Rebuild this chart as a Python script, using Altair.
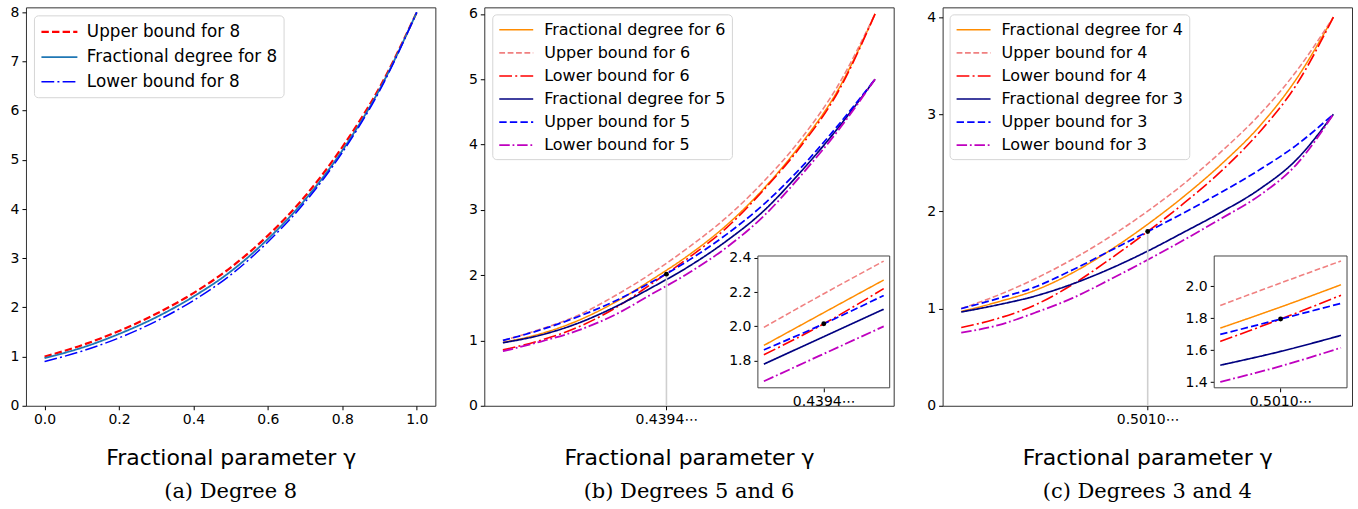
import altair as alt
import pandas as pd

# ---------------- data ----------------
gamma = [0.0, 0.1, 0.2, 0.3, 0.4, 0.5, 0.6, 0.7, 0.8, 0.9, 1.0]

# panel (a): degree 8
a_names = ["Upper bound for 8", "Fractional degree for 8", "Lower bound for 8"]
a_upper8 = [1.00, 1.23, 1.52, 1.87, 2.29, 2.81, 3.46, 4.26, 5.26, 6.47, 8.00]
a_frac8 = [0.97, 1.18, 1.46, 1.80, 2.22, 2.73, 3.39, 4.19, 5.19, 6.43, 8.00]
a_lower8 = [0.90, 1.11, 1.38, 1.72, 2.14, 2.66, 3.33, 4.14, 5.15, 6.40, 8.00]
a_xticks = [0.0, 0.2, 0.4, 0.6, 0.8, 1.0]
a_yticks = [0, 1, 2, 3, 4, 5, 6, 7, 8]

# panel (b): degrees 5 and 6
b_names = ["Fractional degree for 6", "Upper bound for 6", "Lower bound for 6",
           "Fractional degree for 5", "Upper bound for 5", "Lower bound for 5"]
b_frac6 = [0.97, 1.10, 1.30, 1.58, 1.93, 2.31, 2.76, 3.32, 4.00, 4.83, 6.00]
b_upper6 = [1.00, 1.17, 1.38, 1.68, 2.03, 2.43, 2.88, 3.43, 4.08, 4.90, 6.00]
b_lower6 = [0.855, 1.00, 1.20, 1.49, 1.87, 2.27, 2.72, 3.30, 3.97, 4.80, 6.00]
b_frac5 = [0.965, 1.08, 1.26, 1.51, 1.81, 2.135, 2.52, 2.98, 3.58, 4.25, 5.00]
b_upper5 = [1.00, 1.16, 1.36, 1.60, 1.895, 2.23, 2.62, 3.08, 3.64, 4.29, 5.00]
b_lower5 = [0.835, 0.98, 1.15, 1.39, 1.71, 2.035, 2.42, 2.90, 3.52, 4.21, 5.00]
b_yticks = [0, 1, 2, 3, 4, 5, 6]
b_mark_gamma = [0.4394]
b_mark_value = [2.015]
b_mark_base = [0.0]
b_mark_label = "0.4394\u22ef"
b_inset_gamma = [0.3894, 0.4394, 0.4894]
bi_frac6 = [1.889, 2.08, 2.27]
bi_upper6 = [1.994, 2.19, 2.38]
bi_lower6 = [1.834, 2.015, 2.22]
bi_frac5 = [1.78, 1.94, 2.10]
bi_upper5 = [1.863, 2.015, 2.18]
bi_lower5 = [1.68, 1.84, 2.00]
bi_xdomain = [0.3844, 0.4944]
bi_ydomain = [1.642, 2.41]
bi_yticks = [1.8, 2.0, 2.2, 2.4]

# panel (c): degrees 3 and 4
c_names = ["Fractional degree for 4", "Upper bound for 4", "Lower bound for 4",
           "Fractional degree for 3", "Upper bound for 3", "Lower bound for 3"]
c_frac4 = [0.97, 1.07, 1.19, 1.37, 1.60, 1.865, 2.16, 2.49, 2.87, 3.36, 4.00]
c_upper4 = [1.00, 1.14, 1.31, 1.51, 1.74, 2.00, 2.29, 2.62, 2.99, 3.44, 4.00]
c_lower4 = [0.805, 0.90, 1.04, 1.25, 1.51, 1.79, 2.09, 2.42, 2.81, 3.30, 4.00]
c_frac3 = [0.965, 1.04, 1.13, 1.255, 1.41, 1.59, 1.79, 1.995, 2.225, 2.53, 3.00]
c_upper3 = [1.00, 1.105, 1.225, 1.40, 1.595, 1.79, 1.99, 2.20, 2.425, 2.68, 3.00]
c_lower3 = [0.753, 0.83, 0.96, 1.11, 1.30, 1.50, 1.71, 1.93, 2.16, 2.48, 3.00]
c_yticks = [0, 1, 2, 3, 4]
c_mark_gamma = [0.5010]
c_mark_value = [1.794]
c_mark_base = [0.0]
c_mark_label = "0.5010\u22ef"
c_inset_gamma = [0.451, 0.501, 0.551]
ci_frac4 = [1.7375, 1.869, 2.008]
ci_upper4 = [1.879, 2.019, 2.156]
ci_lower4 = [1.654, 1.794, 1.942]
ci_frac3 = [1.506, 1.592, 1.692]
ci_upper3 = [1.698, 1.794, 1.892]
ci_lower3 = [1.402, 1.50, 1.615]
ci_xdomain = [0.446, 0.556]
ci_ydomain = [1.365, 2.1875]
ci_yticks = [1.4, 1.6, 1.8, 2.0]

# ---------------- styles ----------------
DASH = [7.4, 3.2]
DASH_THIN = [5.8, 2.6]
DASHDOT = [12.8, 3.2, 2, 3.2]
DASHDOT_THIN = [10.5, 2.8, 1.8, 2.8]
SOLID = [1, 0]

a_style = {"Upper bound for 8": ("#ff0000", DASH, 2.2),
           "Fractional degree for 8": ("#1f77b4", SOLID, 1.5),
           "Lower bound for 8": ("#0000ff", DASHDOT, 2.2)}


def pair_style(hi, lo):
    return {f"Fractional degree for {hi}": ("#ff8c00", SOLID, 1.5),
            f"Upper bound for {hi}": ("#f08080", DASH_THIN, 1.8),
            f"Lower bound for {hi}": ("#ff0000", DASHDOT, 2.2),
            f"Fractional degree for {lo}": ("#000080", SOLID, 1.5),
            f"Upper bound for {lo}": ("#0000ff", DASH, 2.2),
            f"Lower bound for {lo}": ("#bf00bf", DASHDOT_THIN, 1.8)}


W, H = 410, 399
FONT = "DejaVu Sans"
# legend line sample: path from 0 to 2*sqrt(size) relative to the symbol's cell
SAMPLE_PATH = "M-1,0H3"


def long_df(xs, names, series):
    rows = []
    for n, vals in zip(names, series):
        for g, v in zip(xs, vals):
            rows.append({"g": g, "v": v, "series": n})
    return pd.DataFrame(rows)


def caption_title(text):
    return alt.Title(text, orient="bottom", anchor="middle", font="DejaVu Serif",
                     fontSize=21, fontWeight="normal", color="#000", offset=12)


def make_panel(names, series, style, ymax, yticks, caption, legend_xy, legend_fs,
               sym_len, row_pad, label_gap, xticks=None, mark=None, inset=None):
    colors = [style[n][0] for n in names]
    dashes = [style[n][1] for n in names]
    widths = [style[n][2] for n in names]
    half = sym_len / 2.0
    leg = alt.Legend(orient="none", legendX=legend_xy[0], legendY=legend_xy[1], title=None,
                     symbolType=SAMPLE_PATH, symbolSize=half * half,
                     labelFont=FONT, labelFontSize=legend_fs, labelColor="#000",
                     labelOffset=half + label_gap, rowPadding=row_pad, padding=6,
                     labelLimit=500, strokeColor="#d5d5d5",
                     fillColor="rgba(255,255,255,0.85)", cornerRadius=4)
    color = alt.Color("series:N", scale=alt.Scale(domain=names, range=colors), legend=leg)
    dash = alt.StrokeDash("series:N", scale=alt.Scale(domain=names, range=dashes), legend=leg)
    swid = alt.StrokeWidth("series:N", scale=alt.Scale(domain=names, range=widths), legend=leg)

    if xticks is not None:
        xaxis = alt.Axis(values=xticks, format=".1f", title="Fractional parameter \u03b3",
                         titlePadding=21)
    else:
        xaxis = alt.Axis(values=mark[0], labelExpr="'" + mark[3] + "'",
                         title="Fractional parameter \u03b3", titlePadding=21)
    x = alt.X("g:Q", scale=alt.Scale(domain=[-0.05, 1.05], nice=False, zero=False), axis=xaxis)
    y = alt.Y("v:Q", scale=alt.Scale(domain=[0, ymax], nice=False, zero=False),
              axis=alt.Axis(values=yticks, format="d", title=None))

    df = long_df(gamma, names, series)
    layers = [alt.Chart(df).mark_line(interpolate="monotone")
              .encode(x=x, y=y, color=color, strokeDash=dash, strokeWidth=swid)]
    if mark is not None:
        mdf = pd.DataFrame({"g": mark[0], "v": mark[1], "v0": mark[2]})
        rule = alt.Chart(mdf).mark_rule(color="#cfcfcf", strokeWidth=1.6).encode(
            x="g:Q", y="v0:Q", y2="v:Q")
        dot = alt.Chart(mdf).mark_circle(color="#000", size=24, opacity=1).encode(
            x="g:Q", y="v:Q")
        layers = [layers[0], rule, dot]
    main = alt.layer(*layers)

    if inset is None:
        return main.properties(width=W, height=H, title=caption_title(caption))

    igamma, iseries, ixd, iyd, iyt, ipx, ipy = inset
    ix = alt.X("g:Q", scale=alt.Scale(domain=ixd, range=ipx, nice=False, zero=False),
               axis=alt.Axis(values=mark[0], labelExpr="'" + mark[3] + "'", title=None,
                             orient="bottom", offset=-(H - ipy[0])))
    iy = alt.Y("v:Q", scale=alt.Scale(domain=iyd, range=ipy, nice=False, zero=False),
               axis=alt.Axis(values=iyt, format=".1f", title=None, orient="left",
                             offset=-ipx[0]))
    fdf = pd.DataFrame({"g": [ixd[0]], "g2": [ixd[1]], "v": [iyd[0]], "v2": [iyd[1]]})
    frame = alt.Chart(fdf).mark_rect(fill="white", stroke="#444", strokeWidth=1).encode(
        x=ix, x2="g2:Q", y=iy, y2="v2:Q")
    idf = long_df(igamma, names, iseries)
    ilines = alt.Chart(idf).mark_line(interpolate="monotone", clip=True).encode(
        x="g:Q", y="v:Q", color=color, strokeDash=dash, strokeWidth=swid)
    mdf = pd.DataFrame({"g": mark[0], "v": mark[1]})
    idot = alt.Chart(mdf).mark_circle(color="#000", size=24, opacity=1).encode(
        x="g:Q", y="v:Q")
    inset_layer = alt.layer(frame, ilines, idot)

    return alt.layer(main, inset_layer).resolve_scale(
        x="independent", y="independent").properties(
        width=W, height=H, title=caption_title(caption))


pa = make_panel(a_names, [a_upper8, a_frac8, a_lower8], a_style, 8.1, a_yticks,
                "(a) Degree 8", (8, 8), 16.8, 36, 5.8, 8, xticks=a_xticks)
pb = make_panel(b_names, [b_frac6, b_upper6, b_lower6, b_frac5, b_upper5, b_lower5],
                pair_style(6, 5), 6.1, b_yticks, "(b) Degrees 5 and 6", (8, 7), 16, 34, 5.1, 10,
                mark=(b_mark_gamma, b_mark_value, b_mark_base, b_mark_label),
                inset=(b_inset_gamma, [bi_frac6, bi_upper6, bi_lower6, bi_frac5, bi_upper5, bi_lower5],
                       bi_xdomain, bi_ydomain, bi_yticks, [274, 406], [381, 249]))
pc = make_panel(c_names, [c_frac4, c_upper4, c_lower4, c_frac3, c_upper3, c_lower3],
                pair_style(4, 3), 4.1, c_yticks, "(c) Degrees 3 and 4", (7, 7), 16, 34, 5.1, 10,
                mark=(c_mark_gamma, c_mark_value, c_mark_base, c_mark_label),
                inset=(c_inset_gamma, [ci_frac4, ci_upper4, ci_lower4, ci_frac3, ci_upper3, ci_lower3],
                       ci_xdomain, ci_ydomain, ci_yticks, [272, 405], [381, 249]))

chart = alt.hconcat(pa, pb, pc, spacing=49, bounds="flush").resolve_scale(
    color="independent", strokeDash="independent", strokeWidth="independent"
).properties(
    padding={"left": 9, "top": 4, "right": 5, "bottom": 0},
    background="white",
).configure_view(
    stroke="#333", strokeWidth=1
).configure_axis(
    labelFont=FONT, labelFontSize=14, labelColor="#000", tickColor="#000", tickSize=4,
    tickWidth=1, labelPadding=3, domain=False, grid=False, titleFont=FONT, titleFontSize=22,
    titleFontWeight="normal", titleColor="#000"
)

chart.save("out.html", embed_options={"renderer": "svg", "actions": False})
